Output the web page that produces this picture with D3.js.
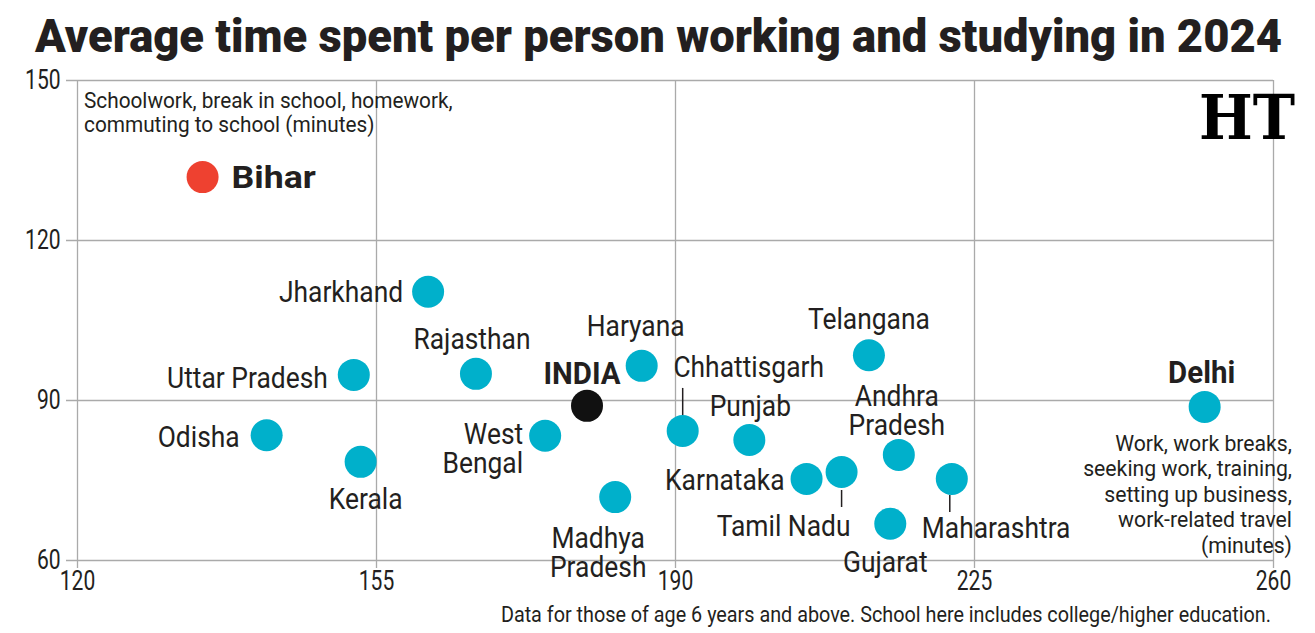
<!DOCTYPE html>
<html>
<head>
<meta charset="utf-8">
<script src="https://cdn.jsdelivr.net/npm/d3@7"></script>
<style>
  body { margin: 0; background: #fff; }
  svg text { font-family: Roboto, "DejaVu Sans Condensed", sans-serif; fill: #231f20; }
</style>
</head>
<body>
<div id="chart"></div>
<script>
// data: x = work minutes, y = school minutes
const states = ["Bihar", "Jharkhand", "Uttar Pradesh", "Rajasthan", "Odisha", "Kerala", "West Bengal",
    "INDIA", "Haryana", "Madhya Pradesh", "Chhattisgarh", "Punjab", "Karnataka", "Tamil Nadu",
    "Telangana", "Gujarat", "Andhra Pradesh", "Maharashtra", "Delhi"];
const workMinutes = [134.7, 161.1, 152.4, 166.7, 142.2, 153.2, 174.8, 179.7, 186.1, 183.0, 190.9,
    198.7, 205.4, 209.5, 212.7, 215.2, 216.2, 222.4, 252.0];
const schoolMinutes = [131.8, 110.3, 94.7, 94.9, 83.4, 78.4, 83.3, 88.9, 96.4, 71.8, 84.2, 82.5,
    75.2, 76.5, 98.4, 66.8, 79.7, 75.2, 88.7];
const xTicks = [120, 155, 190, 225, 260];
const yTicks = [60, 90, 120, 150];

// label placement (pixels relative to the dot)
const labelPos = {
    "Bihar": {dx: 29, dy: 0, anchor: "start", bold: true, sx: 1.15},
    "Jharkhand": {dx: -25, dy: 0, anchor: "end"},
    "Uttar Pradesh": {dx: -26, dy: 2, anchor: "end"},
    "Rajasthan": {dx: -4, dy: -35, anchor: "middle"},
    "Odisha": {dx: -27, dy: 1, anchor: "end"},
    "Kerala": {dx: 5, dy: 37, anchor: "middle"},
    "West Bengal": {dx: -22, dy: -2, anchor: "end", lines: ["West", "Bengal"]},
    "INDIA": {dx: -5, dy: -33, anchor: "middle", bold: true},
    "Haryana": {dx: -6, dy: -40, anchor: "middle"},
    "Madhya Pradesh": {dx: -17, dy: 40, anchor: "middle", lines: ["Madhya", "Pradesh"]},
    "Chhattisgarh": {dx: 66, dy: -65, anchor: "middle", leader: [0, -12, 0, -43]},
    "Punjab": {dx: 1, dy: -35, anchor: "middle"},
    "Karnataka": {dx: -22, dy: 0, anchor: "end"},
    "Tamil Nadu": {dx: -58, dy: 53, anchor: "middle", leader: [0, 18, 0, 35]},
    "Telangana": {dx: 0, dy: -37, anchor: "middle"},
    "Gujarat": {dx: -5, dy: 38, anchor: "middle"},
    "Andhra Pradesh": {dx: -2, dy: -60, anchor: "middle", lines: ["Andhra", "Pradesh"]},
    "Maharashtra": {dx: -30, dy: 48, anchor: "start", leader: [-2, 16, -2, 33]},
    "Delhi": {dx: -3, dy: -35, anchor: "middle", bold: true}
};

const W = 1315, H = 633;
const margin = {top: 80, right: 42, bottom: 73, left: 77},
    width = W - margin.left - margin.right,
    height = H - margin.top - margin.bottom;

const svgRoot = d3.select("#chart").append("svg")
    .attr("width", W)
    .attr("height", H);

// squeezed text block: the font is condensed with a horizontal scale
function block(parent, px, py, lines, opts) {
    const g = parent.append("g")
        .attr("transform", `translate(${px},${py}) scale(${opts.sx},1)`);
    const t = g.append("text")
        .attr("text-anchor", opts.anchor || "start")
        .style("font-size", opts.size + "px")
        .style("font-weight", opts.weight || "normal");
    if (opts.central) t.attr("dominant-baseline", "central");
    lines.forEach((l, i) => {
        t.append("tspan").attr("x", 0).attr("dy", i === 0 ? 0 : opts.lh).text(l);
    });
    return g;
}

// title
svgRoot.append("text")
    .attr("x", 35)
    .attr("y", 52)
    .attr("textLength", 1247)
    .attr("lengthAdjust", "spacingAndGlyphs")
    .style("font-size", "47px")
    .style("font-weight", "900")
    .text("Average time spent per person working and studying in 2024");

const svg = svgRoot.append("g")
    .attr("transform", `translate(${margin.left},${margin.top})`);

const x = d3.scaleLinear().domain([120, 260]).range([0, width]);
const y = d3.scaleLinear().domain([60, 150]).range([height, 0]);

// grid + axes
const gx = svg.append("g")
    .attr("transform", `translate(0,${height + 8})`)
    .call(d3.axisBottom(x).tickValues(xTicks).tickSize(-(height + 8)).tickPadding(3));
const gy = svg.append("g")
    .attr("transform", "translate(-11,0)")
    .call(d3.axisLeft(y).tickValues(yTicks).tickSize(-(width + 11)).tickPadding(7));

[gx, gy].forEach(g => {
    g.select(".domain").remove();
    g.selectAll(".tick line").attr("stroke", "#aaa").attr("stroke-width", 1.3);
    g.selectAll(".tick text")
        .style("font-size", "27px")
        .style("font-family", "Roboto, sans-serif")
        .attr("transform", "scale(0.78,1)")
        .attr("fill", "#231f20");
});

// HT logo
svgRoot.append("text")
    .attr("x", 1295)
    .attr("y", 139)
    .attr("text-anchor", "end")
    .attr("textLength", 96)
    .attr("lengthAdjust", "spacingAndGlyphs")
    .style("font-family", "'DejaVu Serif', serif")
    .style("font-weight", "bold")
    .style("font-size", "62px")
    .style("fill", "#000")
    .text("HT");

// axis annotations
block(svgRoot, 84, 108, ["Schoolwork, break in school, homework,", "commuting to school (minutes)"],
    {sx: 0.945, size: 22, lh: 24});
block(svgRoot, 1292, 451, ["Work, work breaks,", "seeking work, training,", "setting up business,",
    "work-related travel", "(minutes)"], {sx: 0.965, size: 22, lh: 25.5, anchor: "end"});

// footnote
block(svgRoot, 1271, 622, ["Data for those of age 6 years and above. School here includes college/higher education."],
    {sx: 0.9, size: 22, anchor: "end"});

const data = states.map((s, i) => ({name: s, work: workMinutes[i], school: schoolMinutes[i]}));

// leader lines
svg.selectAll(".leader")
    .data(data.filter(d => labelPos[d.name].leader))
    .join("line")
    .attr("class", "leader")
    .attr("x1", d => x(d.work) + labelPos[d.name].leader[0])
    .attr("y1", d => y(d.school) + labelPos[d.name].leader[1])
    .attr("x2", d => x(d.work) + labelPos[d.name].leader[2])
    .attr("y2", d => y(d.school) + labelPos[d.name].leader[3])
    .attr("stroke", "#231f20")
    .attr("stroke-width", 1.5);

// dots
svg.selectAll(".dot")
    .data(data)
    .join("circle")
    .attr("class", "dot")
    .attr("cx", d => x(d.work))
    .attr("cy", d => y(d.school))
    .attr("r", 16)
    .attr("fill", d => d.name === "Bihar" ? "#ee4130" : d.name === "INDIA" ? "#111" : "#00b0cb");

// labels
data.forEach(d => {
    const p = labelPos[d.name];
    block(svg, x(d.work) + p.dx, y(d.school) + p.dy, p.lines || [d.name], {
        sx: p.sx || (p.bold ? 0.95 : 0.88),
        size: p.bold ? 31 : 30,
        weight: p.bold ? "bold" : "normal",
        anchor: p.anchor,
        lh: 29,
        central: true
    });
});
</script>
</body>
</html>
